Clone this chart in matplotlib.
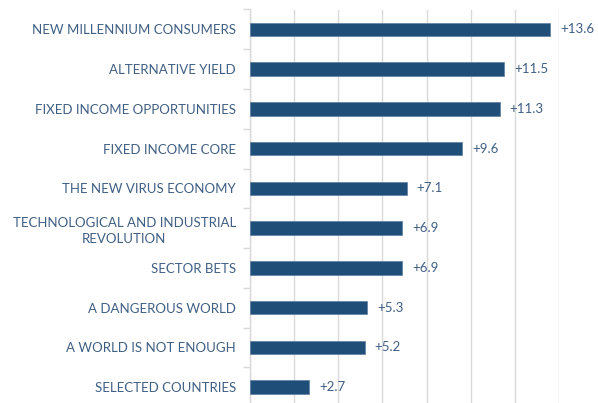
import matplotlib
matplotlib.use("Agg")
import matplotlib.pyplot as plt

categories = ["NEW MILLENNIUM CONSUMERS", "ALTERNATIVE YIELD", "FIXED INCOME OPPORTUNITIES",
              "FIXED INCOME CORE", "THE NEW VIRUS ECONOMY",
              "TECHNOLOGICAL AND INDUSTRIAL\nREVOLUTION", "SECTOR BETS",
              "A DANGEROUS WORLD", "A WORLD IS NOT ENOUGH", "SELECTED COUNTRIES"]
values = [13.6, 11.5, 11.3, 9.6, 7.1, 6.9, 6.9, 5.3, 5.2, 2.7]
value_labels = ["+13.6", "+11.5", "+11.3", "+9.6", "+7.1", "+6.9", "+6.9", "+5.3", "+5.2", "+2.7"]

plt.rcParams['font.family'] = ['Lato', 'DejaVu Sans']
bar_color = "#1F4E79"
text_color = "#405F84"
grid_color = "#D9D9D9"

fig = plt.figure(figsize=(5.98, 4.03), dpi=100)
ax = fig.add_axes([249.7/598, 1 - 407/403, (559.3-249.7)/598, (407-9.5)/403])

n = len(categories)
ypos = list(range(n))
ax.barh(ypos, values, height=0.34, color=bar_color, edgecolor="#5C7FA3", linewidth=0.5, zorder=3)
ax.set_ylim(n - 0.5, -0.5)
ax.set_xlim(0, 14)
ax.set_xticks(range(0, 15, 2))
ax.xaxis.grid(True, color=grid_color, linewidth=1.0, zorder=0)
ax.tick_params(axis='x', length=0, labelbottom=False)

ax.set_yticks(ypos)
ax.set_yticklabels(categories, fontsize=9.5, color=text_color, linespacing=1.35)
ax.tick_params(axis='y', length=0, pad=10)
for lab in ax.get_yticklabels():
    lab.set_horizontalalignment('right')
    lab.set_multialignment('center')
ax.set_yticks([i - 0.5 for i in range(n + 1)], minor=True)
ax.tick_params(axis='y', which='minor', length=5, color=grid_color, width=1)

for s in ['top', 'right', 'bottom']:
    ax.spines[s].set_visible(False)
ax.spines['left'].set_color(grid_color)
ax.spines['left'].set_linewidth(1.0)

for y, v, lab in zip(ypos, values, value_labels):
    ax.annotate(lab, (v, y), xytext=(10, 0), textcoords='offset pixels',
                va='center', ha='left', fontsize=9.5, color=text_color)

fig.savefig("out.png", dpi=100)
